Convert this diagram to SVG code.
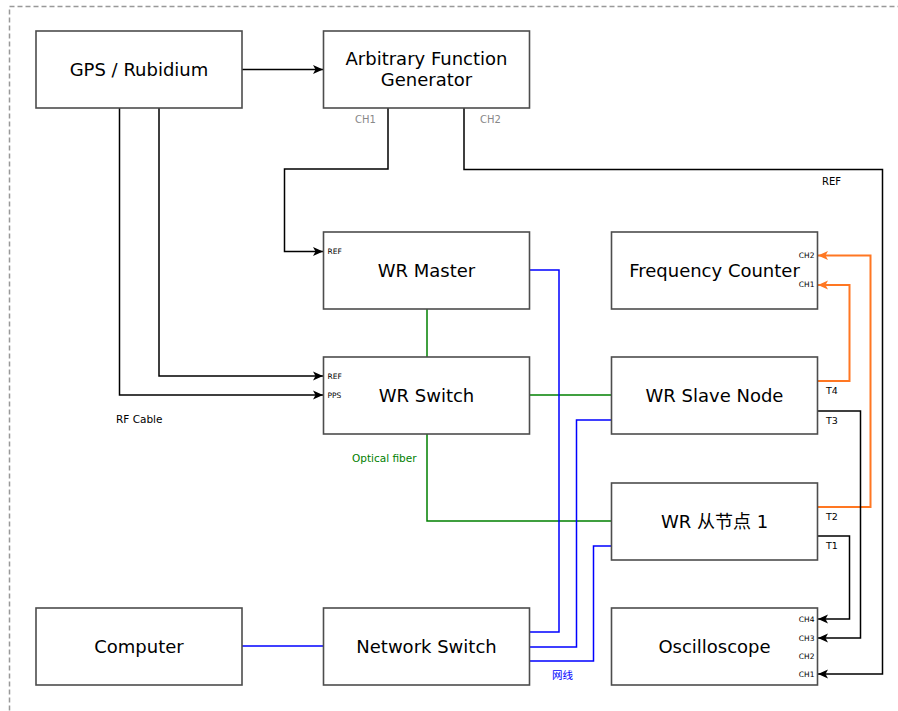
<svg xmlns="http://www.w3.org/2000/svg" width="898" height="711" viewBox="0 0 898 711">
<style>
.box{fill:#fff;stroke:#4d4d4d;stroke-width:1.6}
.t{font-family:"DejaVu Sans",sans-serif;font-size:18px;fill:#000;text-anchor:middle}
.s{font-family:"DejaVu Sans",sans-serif;fill:#000}
.port{font-family:"DejaVu Sans",sans-serif;font-size:7.5px;fill:#000}
.k{fill:none;stroke:#000;stroke-width:1.5}
.b{fill:none;stroke:#0000ff;stroke-width:1.5}
.g{fill:none;stroke:#008000;stroke-width:1.5}
.o{fill:none;stroke:#ff7722;stroke-width:2}
</style>
<defs>
<marker id="ak" markerUnits="userSpaceOnUse" markerWidth="12" markerHeight="10" refX="10" refY="4.5" orient="auto" overflow="visible"><path d="M0,0 L10,4.5 L0,9 L2.5,4.5 z" fill="#000"/></marker>
<marker id="ao" markerUnits="userSpaceOnUse" markerWidth="12" markerHeight="10" refX="10" refY="4.5" orient="auto" overflow="visible"><path d="M0,0 L10,4.5 L0,9 L2.5,4.5 z" fill="#ff7722"/></marker>
</defs>
<rect x="9.5" y="6.5" width="900" height="720" fill="none" stroke="#999" stroke-width="1.5" stroke-dasharray="5,3"/>
<g id="connectors">
<path class="k" d="M242,69.5 H323" marker-end="url(#ak)"/>
<path class="k" d="M119.5,108 V395 H323" marker-end="url(#ak)"/>
<path class="k" d="M159,108 V376 H323" marker-end="url(#ak)"/>
<path class="k" d="M388,108 V169 H284.5 V251.5 H323" marker-end="url(#ak)"/>
<path class="k" d="M464,108 V169.5 H882.5 V674 H818" marker-end="url(#ak)"/>
<path class="g" d="M427,309 V357"/>
<path class="g" d="M529.5,395 H611.5"/>
<path class="g" d="M427,434 V521 H611.5"/>
<path class="b" d="M529.5,270 H559 V632 H529.5"/>
<path class="b" d="M611.5,420 H576.5 V647 H529.5"/>
<path class="b" d="M611.5,546 H593.5 V661 H529.5"/>
<path class="b" d="M242,646 H323.5"/>
<path class="o" d="M817.5,381 H849.5 V285 H818" marker-end="url(#ao)"/>
<path class="o" d="M817.5,507 H870.5 V255.5 H818" marker-end="url(#ao)"/>
<path class="k" d="M817.5,411 H860.5 V638 H818" marker-end="url(#ak)"/>
<path class="k" d="M817.5,536 H849.5 V619 H818" marker-end="url(#ak)"/>
<text class="s" x="355" y="123" font-size="10" fill="#888" style="fill:#888">CH1</text>
<text class="s" x="480" y="123" font-size="10" style="fill:#888">CH2</text>
<text class="s" x="822" y="184.5" font-size="10">REF</text>
<text class="s" x="116" y="423" font-size="10.5">RF Cable</text>
<text class="s" x="352" y="462" font-size="10.5" style="fill:#008000">Optical fiber</text>
<text x="552" y="679" font-size="10.5" style="fill:#0000ff;font-family:'Noto Sans CJK SC',sans-serif">网线</text>
<text class="s" x="826" y="394" font-size="9.5">T4</text>
<text class="s" x="826" y="423.5" font-size="9.5">T3</text>
<text class="s" x="826" y="519.5" font-size="9.5">T2</text>
<text class="s" x="826" y="549" font-size="9.5">T1</text>
</g>
<g id="gps">
<rect class="box" x="36" y="31" width="206" height="77"/>
<text class="t" x="139" y="76">GPS / Rubidium</text>
</g>
<g id="afg">
<rect class="box" x="323.5" y="31" width="206" height="77"/>
<text class="t" x="426.5" y="65">Arbitrary Function</text>
<text class="t" x="426.5" y="86">Generator</text>
</g>
<g id="wrmaster">
<rect class="box" x="323.5" y="232" width="206" height="77"/>
<text class="t" x="426.5" y="276.5">WR Master</text>
<text class="port" x="327.5" y="253.5">REF</text>
</g>
<g id="freqcounter">
<rect class="box" x="611.5" y="232" width="206" height="77"/>
<text class="t" x="714.5" y="276.5">Frequency Counter</text>
<text class="port" x="814.5" y="257.5" text-anchor="end">CH2</text>
<text class="port" x="814.5" y="287" text-anchor="end">CH1</text>
</g>
<g id="wrswitch">
<rect class="box" x="323.5" y="357" width="206" height="77"/>
<text class="t" x="426.5" y="401.5">WR Switch</text>
<text class="port" x="327.5" y="378.5">REF</text>
<text class="port" x="327.5" y="398">PPS</text>
</g>
<g id="wrslave">
<rect class="box" x="611.5" y="357" width="206" height="77"/>
<text class="t" x="714.5" y="401.5">WR Slave Node</text>
</g>
<g id="wrslave1">
<rect class="box" x="611.5" y="483" width="206" height="77"/>
<text class="t" x="714.5" y="527.5" style="font-family:'DejaVu Sans','Noto Sans CJK SC',sans-serif">WR 从节点 1</text>
</g>
<g id="computer">
<rect class="box" x="36" y="608" width="206" height="77"/>
<text class="t" x="139" y="652.5">Computer</text>
</g>
<g id="netswitch">
<rect class="box" x="323.5" y="608" width="206" height="77"/>
<text class="t" x="426.5" y="652.5">Network Switch</text>
</g>
<g id="oscilloscope">
<rect class="box" x="611.5" y="608" width="206" height="77"/>
<text class="t" x="714.5" y="652.5">Oscilloscope</text>
<text class="port" x="814.5" y="621.5" text-anchor="end">CH4</text>
<text class="port" x="814.5" y="640.5" text-anchor="end">CH3</text>
<text class="port" x="814.5" y="658.5" text-anchor="end">CH2</text>
<text class="port" x="814.5" y="676.5" text-anchor="end">CH1</text>
</g>
</svg>
